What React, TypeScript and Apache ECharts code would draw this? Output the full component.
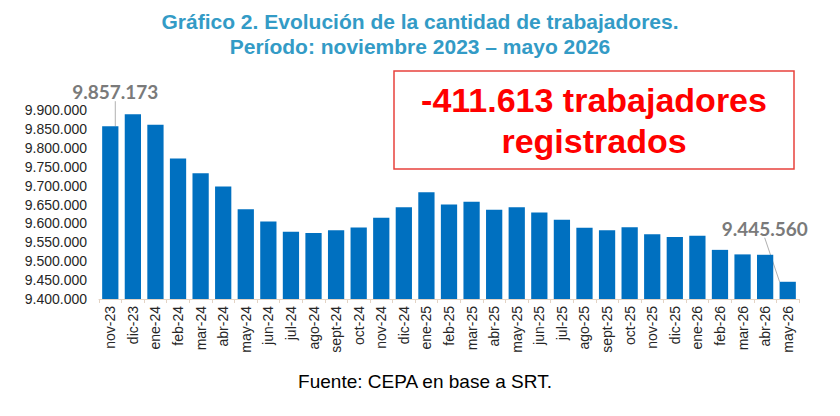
import { useEffect, useRef } from "react";
import * as echarts from "echarts";

const months = [
  "nov-23", "dic-23", "ene-24", "feb-24", "mar-24", "abr-24", "may-24", "jun-24",
  "jul-24", "ago-24", "sept-24", "oct-24", "nov-24", "dic-24", "ene-25", "feb-25",
  "mar-25", "abr-25", "may-25", "jun-25", "jul-25", "ago-25", "sept-25", "oct-25",
  "nov-25", "dic-25", "ene-26", "feb-26", "mar-26", "abr-26", "may-26",
];

const workers = [
  9857173, 9888500, 9861000, 9771500, 9732700, 9697500, 9637700, 9605000,
  9577800, 9574300, 9582000, 9589000, 9615000, 9643000, 9682600, 9650000,
  9657000, 9636000, 9643000, 9629000, 9609500, 9588400, 9582000, 9590000,
  9571000, 9564000, 9567000, 9530000, 9518000, 9517000, 9445560,
];

const titleLines = [
  "Gráfico 2. Evolución de la cantidad de trabajadores.",
  "Período: noviembre 2023 – mayo 2026",
];
const boxLines = ["-411.613 trabajadores", "registrados"];
const source = "Fuente: CEPA en base a SRT.";

const fmt = (v: number) => String(Math.round(v)).replace(/\B(?=(\d{3})+(?!\d))/g, ".");

const FONT = "'Liberation Sans', Arial, sans-serif";

export default function App() {
  const ref = useRef<HTMLDivElement>(null);

  useEffect(() => {
    if (!ref.current) return;
    const chart = echarts.init(ref.current, null, { renderer: "svg" });
    const last = workers.length - 1;

    chart.setOption({
      animation: false,
      backgroundColor: "#ffffff",
      title: {
        text: titleLines.join("\n"),
        left: "center",
        top: 4,
        textStyle: {
          fontFamily: FONT,
          fontSize: 21,
          fontWeight: "bold",
          color: "#339bc6",
          lineHeight: 25,
        },
      },
      grid: { left: 99, right: 41, top: 110, bottom: 117, outerBoundsMode: "none" },
      xAxis: {
        type: "category",
        data: months,
        axisLine: { lineStyle: { color: "#e3d3c4" } },
        axisTick: { show: true, length: 4, lineStyle: { color: "#e3d3c4" } },
        axisLabel: {
          rotate: 90,
          interval: 0,
          margin: 7,
          fontFamily: FONT,
          fontSize: 14,
          color: "#262626",
        },
      },
      yAxis: {
        type: "value",
        min: 9400000,
        max: 9900000,
        interval: 50000,
        axisLine: { show: false },
        axisTick: { show: false },
        splitLine: { show: false },
        axisLabel: {
          margin: 12,
          fontFamily: FONT,
          fontSize: 14,
          color: "#262626",
          formatter: (v: number) => fmt(v),
        },
      },
      series: [
        {
          type: "bar",
          barCategoryGap: "28%",
          itemStyle: { color: "#0070c0" },
          data: workers.map((v, i) =>
            i === 0 || i === last
              ? {
                  value: v,
                  label: {
                    show: true,
                    position: "top",
                    fontFamily: "Lato, 'Liberation Sans', sans-serif",
                    fontWeight: "bold",
                    fontSize: 19,
                    color: "#7a7a7a",
                    formatter: (p: any) => fmt(p.value),
                  },
                  labelLine: { show: true, lineStyle: { color: "#b0b0b0", width: 1 } },
                }
              : v
          ),
          labelLayout: (p: any) => {
            if (p.dataIndex === 0) return { dx: 5, dy: -20 };
            if (p.dataIndex === last) return { dx: -23, dy: -39 };
            return {};
          },
        },
      ],
      graphic: [
        {
          type: "rect",
          shape: { x: 394, y: 71, width: 400, height: 98 },
          style: { fill: "none", stroke: "#e8413c", lineWidth: 1.5 },
        },
        {
          type: "text",
          x: 594,
          y: 120,
          style: {
            text: boxLines.join("\n"),
            fontFamily: FONT,
            fontSize: 34,
            fontWeight: "bold",
            lineHeight: 41,
            fill: "#ff0000",
            align: "center",
            verticalAlign: "middle",
          },
        },
        {
          type: "text",
          x: 425,
          y: 381,
          style: {
            text: source,
            fontFamily: FONT,
            fontSize: 19,
            fill: "#000000",
            align: "center",
            verticalAlign: "middle",
          },
        },
      ],
    });

    return () => chart.dispose();
  }, []);

  return (
    <div
      ref={ref}
      style={{ position: "fixed", left: 0, top: 0, width: 840, height: 416 }}
    />
  );
}
